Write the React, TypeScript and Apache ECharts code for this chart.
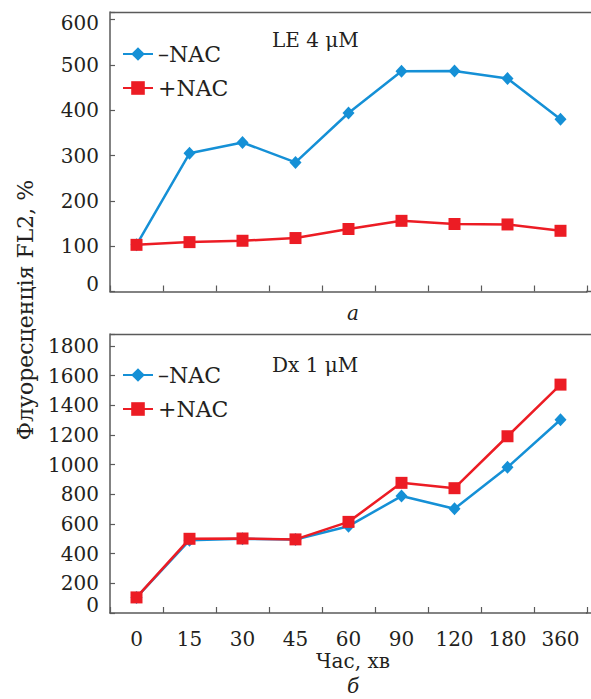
import React, { useEffect, useRef } from 'react';
import * as echarts from 'echarts';

const categories = ['0', '15', '30', '45', '60', '90', '120', '180', '360'];
const seriesNames = ['–NAC', '+NAC'];
const leMinusNac = [103, 305, 329, 285, 394, 486, 487, 470, 380];
const lePlusNac = [103, 109, 112, 118, 138, 156, 149, 148, 134];
const dxMinusNac = [105, 490, 500, 495, 585, 788, 702, 982, 1302];
const dxPlusNac = [105, 500, 502, 496, 614, 877, 841, 1191, 1539];
const panelTitles = ['LE 4 μM', 'Dx 1 μM'];
const panelLetters = ['а', 'б'];
const yAxisTitle = 'Флуоресценція FL2, %';
const xAxisTitle = 'Час, хв';

const FONT = '"DejaVu Serif", "Liberation Serif", serif';
const TXT = '#231f20';
const AX = '#5a5a5a';
const BLUE = '#1590d6';
const RED = '#ec1c24';

export default function App() {
  const ref = useRef<HTMLDivElement>(null);
  useEffect(() => {
    document.body.style.margin = '0';
    const chart = echarts.init(ref.current!, null, { renderer: 'svg' });
    const rich = {
      lo: { padding: [0, 0, 16, 0], fontFamily: FONT, fontSize: 20, color: TXT },
      hi: { padding: [6, 0, 0, 0], fontFamily: FONT, fontSize: 20, color: TXT },
    };
    const yLabel = (top: number) => (v: number) => {
      if (v % 100 !== 0 || v > top) return '';
      if (v === 0) return '{lo|0}';
      if (v === 600 && top === 600) return '{hi|600}';
      return String(v);
    };
    const axisLine = { show: true, lineStyle: { color: AX, width: 1.5 } };
    const tick = (len: number) => ({ show: true, inside: true, length: len, lineStyle: { color: AX, width: 1.2 } });
    const mkX = (gi: number, showLabel: boolean) => ({
      type: 'category',
      gridIndex: gi,
      data: categories,
      axisLine,
      axisTick: tick(6),
      axisLabel: { show: showLabel, fontFamily: FONT, fontSize: 20, color: TXT, margin: 16 },
      splitLine: { show: false },
    });
    const mkY = (gi: number, max: number, interval: number, top: number) => ({
      type: 'value',
      gridIndex: gi,
      min: 0,
      max,
      interval,
      axisLine,
      axisTick: tick(5),
      splitLine: { show: false },
      axisLabel: {
        fontFamily: FONT,
        fontSize: 20,
        color: TXT,
        margin: 11,
        formatter: yLabel(top),
        rich,
      },
    });
    const mkSeries = (name: string, data: number[], gi: number, color: string, symbol: string, size: any) => ({
      type: 'line',
      name,
      data,
      xAxisIndex: gi,
      yAxisIndex: gi,
      symbol,
      symbolSize: size,
      showAllSymbol: true,
      itemStyle: { color },
      lineStyle: { color, width: 2.5 },
    });
    const mkLegend = (top: number) => ({
      orient: 'vertical',
      left: 122,
      top,
      padding: 0,
      itemWidth: 30,
      itemHeight: 17,
      itemGap: 12,
      data: seriesNames,
      textStyle: { fontFamily: FONT, fontSize: 22, color: TXT, lineHeight: 22 },
    });
    const txt = (text: string, x: number, y: number, opts: any = {}) => ({
      type: 'text',
      x,
      y,
      rotation: opts.rotation || 0,
      style: {
        text,
        font: `${opts.italic ? 'italic ' : ''}${opts.size || 20}px ${FONT}`,
        fill: TXT,
        textAlign: opts.align || 'left',
        textVerticalAlign: 'middle',
      },
    });
    const hline = (x1: number, x2: number, y: number) => ({
      type: 'line',
      shape: { x1, y1: y, x2, y2: y },
      style: { stroke: AX, lineWidth: 1.5 },
    });
    chart.setOption({
      animation: false,
      grid: [
        { left: 110, right: 4, top: 12, height: 279.5 },
        { left: 110, right: 4, top: 334, height: 279 },
      ],
      xAxis: [mkX(0, false), mkX(1, true)],
      yAxis: [mkY(0, 617, 100, 600), mkY(1, 1880, 200, 1800)],
      legend: [mkLegend(43), mkLegend(364)],
      series: [
        mkSeries(seriesNames[0], leMinusNac, 0, BLUE, 'diamond', [12, 13]),
        mkSeries(seriesNames[1], lePlusNac, 0, RED, 'rect', 12),
        mkSeries(seriesNames[0], dxMinusNac, 1, BLUE, 'diamond', [12, 13]),
        mkSeries(seriesNames[1], dxPlusNac, 1, RED, 'rect', 12),
      ],
      graphic: [
        hline(110, 591, 12.5),
        hline(110, 591, 334.5),
        hline(586, 591, 291.5),
        hline(586, 591, 613),
        txt(panelTitles[0], 272, 40),
        txt(panelTitles[1], 272, 365),
        txt(panelLetters[0], 353, 313, { italic: true, align: 'center' }),
        txt(panelLetters[1], 353, 686, { italic: true, align: 'center' }),
        txt(xAxisTitle, 353, 661, { align: 'center' }),
        txt(yAxisTitle, 25, 310, { align: 'center', rotation: Math.PI / 2, size: 22 }),
      ],
    });
    return () => chart.dispose();
  }, []);
  return <div ref={ref} style={{ width: 591, height: 699 }} />;
}
